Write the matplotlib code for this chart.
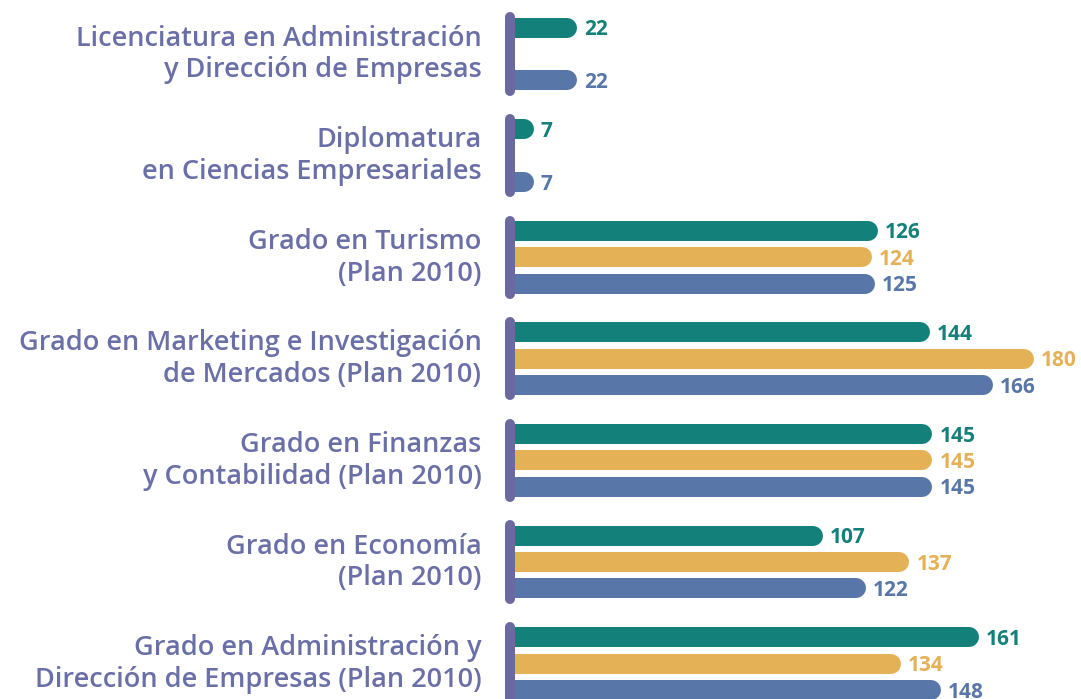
"""
Horizontal grouped bar chart with rounded bar ends (three series per degree)
"""

import numpy as np
import matplotlib.pyplot as plt

plt.switch_backend('Agg')

# data (top to bottom), None = no bar for that series
categories = [
    "Licenciatura en Administración\ny Dirección de Empresas",
    "Diplomatura\nen Ciencias Empresariales",
    "Grado en Turismo\n(Plan 2010)",
    "Grado en Marketing e Investigación\nde Mercados (Plan 2010)",
    "Grado en Finanzas\ny Contabilidad (Plan 2010)",
    "Grado en Economía\n(Plan 2010)",
    "Grado en Administración y\nDirección de Empresas (Plan 2010)",
]
serie_teal = [22, 7, 126, 144, 145, 107, 161]
serie_gold = [None, None, 124, 180, 145, 137, 134]
serie_blue = [22, 7, 125, 166, 145, 122, 148]

colors = ['#138079', '#e5b156', '#5876a8']
sep_color = '#6a6aa0'
label_color = '#6b6fa8'
font = ['Open Sans', 'DejaVu Sans']

W, H, DPI = 1081, 699, 100
px_per_unit = 2.89
x0_px = 513.4        # pixel where value 0 sits
group_px = 101.6     # pixel distance between groups
first_px = 54        # pixel y of first group centre

fig = plt.figure(figsize=(W / DPI, H / DPI), dpi=DPI)
ax = fig.add_axes([0, 0, 1, 1])
ax.set_xlim(-x0_px / px_per_unit, (W - x0_px) / px_per_unit)
ax.set_ylim((H - first_px) / group_px, -first_px / group_px)
ax.axis('off')

bar_px = 20
bar_lw = bar_px * 72 / DPI
cap = (bar_px / 2) / px_per_unit   # round cap length in data units
start = 1.6 / px_per_unit          # left cap hides under the separator
offsets = [-0.26, 0.0, 0.26]
series = [serie_teal, serie_gold, serie_blue]

for s, (vals, col) in enumerate(zip(series, colors)):
    for i, v in enumerate(vals):
        if v is None:
            continue
        y = i + offsets[s]
        ax.plot([start, v - cap], [y, y], color=col, lw=bar_lw,
                solid_capstyle='round', zorder=2)
        ax.text(v + 7 / px_per_unit, y + 0.02, str(v), color=col,
                fontsize=15, fontweight='bold', va='center', ha='left',
                family=font)

# vertical separators per group
sep_lw = 10 * 72 / DPI
sep_x = -3.5 / px_per_unit
for i in range(len(categories)):
    ax.plot([sep_x, sep_x], [i - 0.36, i + 0.36], color=sep_color,
            lw=sep_lw, solid_capstyle='round', zorder=3)

# category labels, one line at a time on fixed baselines
baselines = [-8.5 / group_px, 23.5 / group_px]
for i, name in enumerate(categories):
    for line, dy in zip(name.split('\n'), baselines):
        ax.text(-32 / px_per_unit, i + dy, line, color=label_color,
                fontsize=19.5, fontweight='semibold', ha='right',
                va='baseline', family=font)

fig.savefig('out.png', dpi=DPI)
